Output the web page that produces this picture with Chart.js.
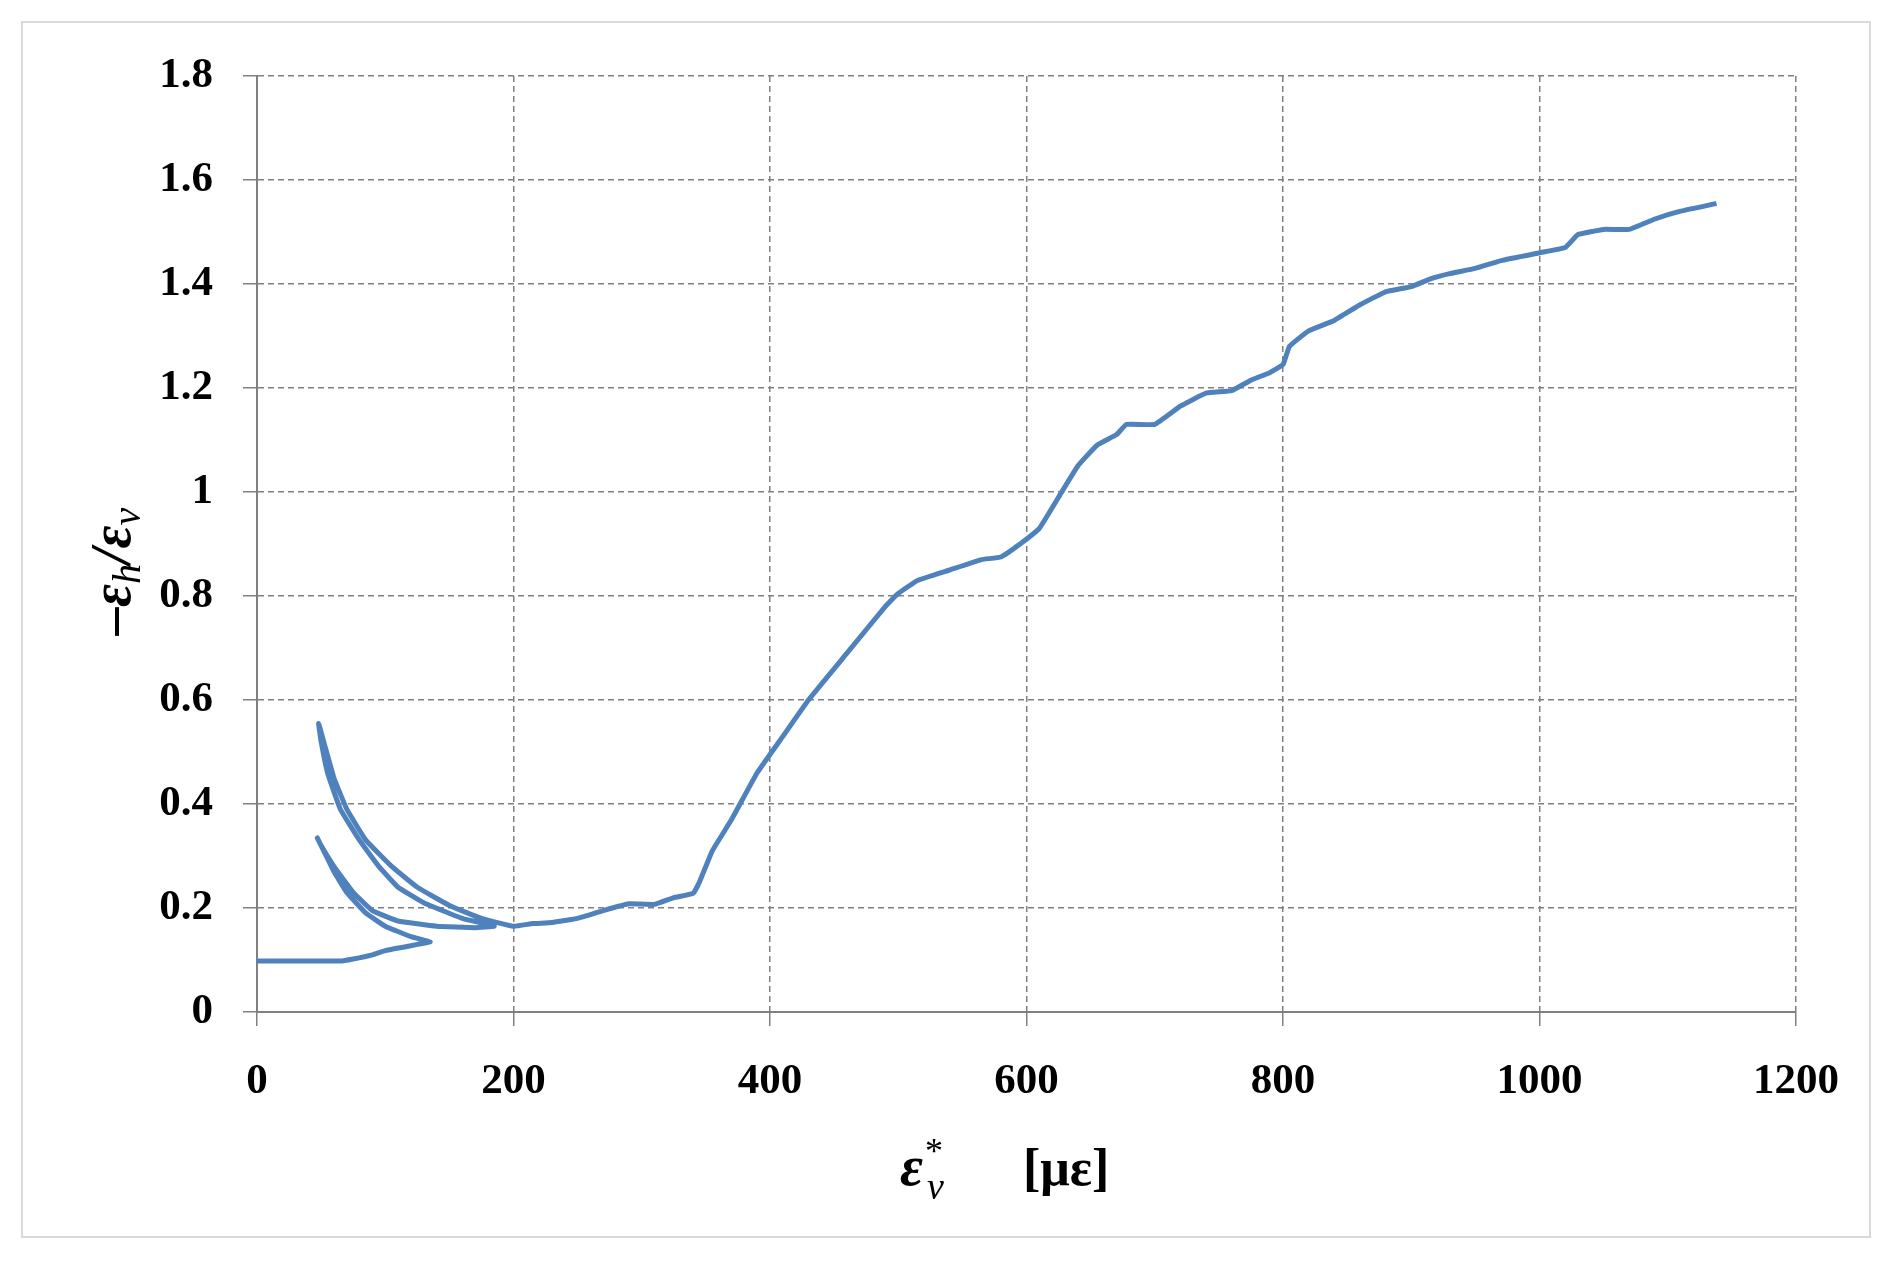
<!DOCTYPE html>
<html>
<head>
<meta charset="utf-8">
<script src="https://cdn.jsdelivr.net/npm/chart.js@4"></script>
<style>
  html, body { margin: 0; padding: 0; background: #fff; }
  #wrap { width: 1892px; height: 1262px; position: relative; }
</style>
</head>
<body>
<div id="wrap"><canvas id="ratioChart"></canvas></div>
<script>
// strain path, in drawing order (loops then main branch)
const strainX = [0, 65, 75, 90, 100, 115, 125, 135,
  120, 100, 85, 70, 60, 52, 47,
  50, 60, 75, 90, 110, 140, 170, 185,
  160, 130, 110, 95, 80, 65, 55, 50, 48,
  52, 60, 70, 85, 105, 125, 150, 175, 200,
  215, 230, 250, 270, 290, 310, 325, 340, 345, 355, 370, 390, 410, 430, 460, 490, 500,
  515, 540, 565, 580, 595, 610, 625, 640, 655, 670, 678, 700, 720, 740, 760, 775, 790,
  800, 805, 820, 840, 860, 880, 900, 915, 930, 950, 970, 1000, 1020, 1030, 1050, 1070,
  1090, 1110, 1138];
const ratioY = [0.098, 0.098, 0.102, 0.11, 0.118, 0.125, 0.13, 0.135,
  0.145, 0.165, 0.19, 0.23, 0.27, 0.31, 0.335,
  0.32, 0.28, 0.23, 0.195, 0.175, 0.165, 0.162, 0.165,
  0.18, 0.21, 0.24, 0.28, 0.33, 0.39, 0.46, 0.52, 0.555,
  0.52, 0.45, 0.39, 0.33, 0.28, 0.24, 0.205, 0.18, 0.165,
  0.17, 0.172, 0.18, 0.195, 0.208, 0.207, 0.22, 0.228, 0.25, 0.31, 0.37, 0.46, 0.53, 0.6, 0.69, 0.78, 0.805,
  0.83, 0.85, 0.87, 0.875, 0.9, 0.93, 0.99, 1.05, 1.09, 1.11, 1.13, 1.13, 1.165, 1.19, 1.195, 1.215, 1.23,
  1.245, 1.28, 1.31, 1.33, 1.36, 1.385, 1.395, 1.41, 1.42, 1.43, 1.445, 1.46, 1.47, 1.495, 1.505, 1.505,
  1.525, 1.54, 1.555];
const xTicks = [0, 200, 400, 600, 800, 1000, 1200];
const yTicks = [0, 0.2, 0.4, 0.6, 0.8, 1, 1.2, 1.4, 1.6, 1.8];

const points = strainX.map((x, i) => ({ x: x, y: ratioY[i] }));
const tickFont = { family: "Liberation Serif", size: 43, weight: "bold" };
const grey = "#808080";

// frame and axis titles with sub/superscripts
const decor = {
  id: "decor",
  afterDraw(chart) {
    const c = chart.ctx;
    c.save();
    c.strokeStyle = "#d9d9d9";
    c.lineWidth = 2;
    c.strokeRect(22, 22, 1848, 1215);
    c.fillStyle = "#000";
    c.textBaseline = "alphabetic";

    // x title
    let x = 900, y = 1185;
    c.font = "italic bold 56px 'Liberation Serif'";
    c.fillText("\u03b5", x, y); x += c.measureText("\u03b5").width;
    c.font = "36px 'Liberation Serif'";
    c.fillText("*", x + 2, y - 22);
    c.font = "italic 38px 'Liberation Serif'";
    c.fillText("v", x + 4, y + 14); x += 100;
    c.font = "bold 52px 'Liberation Serif'";
    c.fillText("[\u03bc\u03b5]", x, y);

    // y title, rotated
    c.translate(130, 635);
    c.rotate(-Math.PI / 2);
    x = 0; y = 0;
    c.font = "italic bold 56px 'Liberation Serif'";
    c.fillText("\u2013\u03b5", x, y); x += c.measureText("\u2013\u03b5").width;
    c.font = "italic 40px 'Liberation Serif'";
    c.fillText("h", x, y + 10); x += c.measureText("h").width;
    c.font = "italic bold 56px 'Liberation Serif'";
    c.fillText("/\u03b5", x, y); x += c.measureText("/\u03b5").width;
    c.font = "italic 40px 'Liberation Serif'";
    c.fillText("v", x, y + 10);
    c.restore();
  }
};

new Chart(document.getElementById("ratioChart"), {
  type: "scatter",
  data: {
    datasets: [{
      data: points,
      showLine: true,
      borderColor: "#4f81bd",
      borderWidth: 5,
      pointRadius: 0,
      tension: 0.1
    }]
  },
  options: {
    responsive: true,
    maintainAspectRatio: false,
    animation: false,
    layout: { padding: { left: 0, top: 76, right: 96, bottom: 0 } },
    scales: {
      x: {
        min: 0, max: 1200,
        afterBuildTicks: s => { s.ticks = xTicks.map(v => ({ value: v })); },
        afterFit: s => { s.height = 250; },
        ticks: { font: tickFont, color: "#000", padding: 30, maxRotation: 0, callback: v => String(v) },
        grid: { color: grey, lineWidth: 1.5, tickLength: 14 },
        border: { color: grey, width: 2, dash: [6, 4] }
      },
      y: {
        min: 0, max: 1.8,
        afterBuildTicks: s => { s.ticks = yTicks.map(v => ({ value: v })); },
        afterFit: s => { s.width = 257; },
        ticks: { font: tickFont, color: "#000", padding: 30, callback: v => String(Math.round(v * 10) / 10) },
        grid: { color: grey, lineWidth: 1.5, tickLength: 14 },
        border: { color: grey, width: 2, dash: [6, 4] }
      }
    },
    plugins: { legend: { display: false }, tooltip: { enabled: false } }
  },
  plugins: [decor]
});
</script>
</body>
</html>
